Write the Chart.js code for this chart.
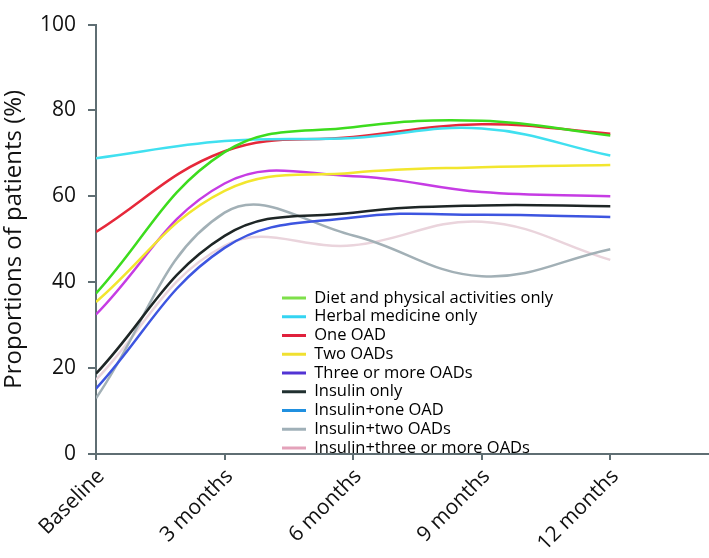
<!DOCTYPE html>
<html>
<head>
<meta charset="utf-8">
<script src="https://cdn.jsdelivr.net/npm/chart.js@4"></script>
<style>
  html, body { margin: 0; padding: 0; background: #fff; }
  #c { display: block; }
</style>
</head>
<body>
<canvas id="c" width="709" height="558"></canvas>
<script>
// ---- data ----
const categories = ['Baseline', '3 months', '6 months', '9 months', '12 months'];
const yTicks = [0, 20, 40, 60, 80, 100];
const seriesNames = [
  'Diet and physical activities only',
  'Herbal medicine only',
  'One OAD',
  'Two OADs',
  'Three or more OADs',
  'Insulin only',
  'Insulin+one OAD',
  'Insulin+two OADs',
  'Insulin+three or more OADs'
];
const dietOnly      = [37.4, 70.3, 76.1, 77.6, 74.2];
const herbalOnly    = [68.9, 72.9, 73.6, 75.8, 69.5];
const oneOAD        = [51.7, 70.5, 73.8, 76.8, 74.6];
const twoOADs       = [35.4, 61.3, 65.5, 66.8, 67.3];
const threeOADs     = [32.5, 63.0, 64.7, 61.0, 60.0];
const insulinOnly   = [18.7, 50.8, 56.2, 57.9, 57.7];
const insulinOne    = [15.2, 48.0, 55.1, 55.7, 55.2];
const insulinTwo    = [13.0, 56.2, 50.9, 41.4, 47.7];
const insulinThree  = [17.3, 48.5, 48.6, 54.1, 45.2];

// ---- styles ----
const lineColors = ['#3ddc1e', '#40e0f0', '#e6283a', '#f2e62e', '#c63ce4', '#1e2626', '#3d55e0', '#a2b0b6', '#ead4dc'];
const legendColors = ['#7ee04a', '#34d4f2', '#e0203c', '#f0e030', '#5234d4', '#203030', '#2090e0', '#a0b0b8', '#e4a2ba'];
const axisColor = '#5f6e73';
const FONT = '"Open Sans", "Noto Sans", sans-serif';

const allSeries = [dietOnly, herbalOnly, oneOAD, twoOADs, threeOADs, insulinOnly, insulinOne, insulinTwo, insulinThree];

const datasets = allSeries.map((vals, i) => ({
  label: seriesNames[i],
  data: vals.map((v, k) => ({ x: k, y: v })),
  borderColor: lineColors[i],
  backgroundColor: lineColors[i],
  borderWidth: 2.5,
  pointRadius: 0,
  tension: 0.4,
  fill: false
}));

const legendMover = {
  id: 'legendMover',
  afterLayout(chart) {
    const lg = chart.legend;
    if (!lg) return;
    lg.left = 279.75;
    lg.top = 287.5;
    lg.right = 709;
    lg.bottom = 558;
  }
};

new Chart(document.getElementById('c'), {
  type: 'line',
  data: { datasets },
  plugins: [legendMover],
  options: {
    responsive: false,
    animation: false,
    devicePixelRatio: 1,
    layout: { padding: { left: 0, right: 1, top: 0, bottom: 0 } },
    plugins: {
      tooltip: { enabled: false },
      title: { display: false },
      legend: {
        position: 'chartArea',
        align: 'start',
        labels: {
          font: { family: FONT, size: 16.5 },
          color: '#111',
          padding: 2.25,
          usePointStyle: true,
          pointStyleWidth: 24,
          generateLabels(chart) {
            return chart.data.datasets.map((ds, i) => ({
              text: ds.label,
              fillStyle: legendColors[i],
              strokeStyle: legendColors[i],
              lineWidth: 3,
              pointStyle: 'line',
              hidden: false,
              datasetIndex: i
            }));
          }
        }
      }
    },
    scales: {
      x: {
        type: 'linear',
        min: 0,
        max: 4.76,
        afterBuildTicks(axis) {
          axis.ticks = categories.map((c, i) => ({ value: i }));
        },
        afterFit(scale) { scale.height = 104; },
        ticks: {
          stepSize: 1,
          autoSkip: false,
          maxRotation: 45,
          minRotation: 45,
          padding: 4,
          labelOffset: 5,
          color: '#111',
          font: { family: FONT, size: 21 },
          callback(v) { return categories[v] ?? ''; }
        },
        grid: { display: true, drawOnChartArea: false, drawTicks: true, tickLength: 6, color: axisColor, lineWidth: 2 },
        border: { display: true, color: axisColor, width: 2 }
      },
      y: {
        min: 0,
        max: 100,
        afterBuildTicks(axis) {
          axis.ticks = yTicks.map(v => ({ value: v }));
        },
        afterFit(scale) { scale.width = 96; },
        ticks: {
          padding: 12,
          color: '#111',
          font: { family: FONT, size: 21 }
        },
        grid: { display: true, drawOnChartArea: false, drawTicks: true, tickLength: 8, color: axisColor, lineWidth: 2 },
        border: { display: true, color: axisColor, width: 2 },
        title: {
          display: true,
          text: 'Proportions of patients (%)',
          color: '#111',
          font: { family: FONT, size: 24 },
          padding: { top: 0, bottom: 0 }
        }
      }
    }
  }
});
</script>
</body>
</html>
